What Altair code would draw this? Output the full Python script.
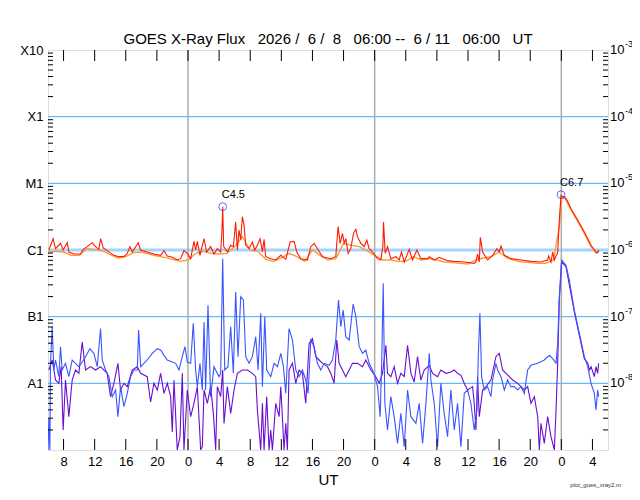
import altair as alt
import pandas as pd

# time axis: hours after 2026-06-08 06:00 UT, flux as log10(W/m^2)
red_hours = [0.11, 0.66, 0.97, 1.61, 1.95, 2.47, 2.68, 3.32, 4.18, 4.53,
             5.04, 5.68, 6.11, 6.54, 6.76, 7.10, 7.61, 8.47, 9.12, 9.76,
             10.19, 10.53, 10.83, 11.60, 11.90, 12.76, 13.62, 14.48, 14.91, 15.34,
             15.98, 16.62, 17.05, 17.48, 17.91, 18.34, 18.77, 18.98, 19.20, 19.54,
             20.06, 20.40, 20.91, 21.34, 21.77, 22.20, 22.37, 22.46, 22.59, 23.06,
             23.49, 23.83, 24.13, 24.35, 24.56, 24.78, 24.99, 25.21, 25.42, 25.85,
             26.28, 26.58, 26.92, 27.27, 27.57, 27.78, 27.99, 28.64, 29.28, 29.93,
             30.57, 31.13, 31.64, 31.98, 32.50, 33.36, 33.79, 34.22, 34.64, 35.29,
             36.36, 37.00, 37.30, 37.56, 37.86, 38.08, 38.29, 38.59, 38.93, 39.28,
             39.58, 39.79, 40.22, 40.65, 40.99, 41.29, 41.72, 42.36, 42.79, 43.05,
             43.14, 43.35, 43.65, 44.08, 44.72, 45.15, 45.45, 45.80, 46.44, 46.87,
             47.43, 47.94, 48.80, 49.01, 49.66, 50.30, 50.73, 51.37, 52.23, 53.52,
             54.80, 55.02, 55.23, 55.45, 55.58, 55.88, 56.52, 57.17, 57.72, 58.02,
             58.24, 58.67, 59.52, 60.81, 62.10, 63.38, 64.24, 64.37, 64.67, 64.89,
             65.10, 65.53, 65.74, 65.96, 66.17, 66.39, 66.73, 67.25, 68.10, 68.96,
             69.82, 70.46, 70.67, 70.80]
red_log = [-6.00, -5.83, -5.98, -5.90, -6.00, -5.89, -6.03, -6.06, -6.06, -5.99,
           -5.95, -5.89, -5.95, -5.99, -5.83, -5.97, -6.01, -6.08, -6.10, -6.10,
           -6.05, -5.95, -6.03, -5.89, -6.00, -6.03, -6.06, -6.08, -6.01, -6.09,
           -6.11, -6.15, -6.13, -6.01, -6.05, -6.13, -5.87, -6.00, -5.87, -6.08,
           -5.83, -6.03, -5.95, -6.06, -5.98, -6.03, -5.70, -5.35, -5.95, -6.03,
           -5.93, -5.95, -5.58, -6.00, -5.70, -5.85, -5.50, -5.63, -5.93, -5.98,
           -5.88, -6.00, -5.93, -5.83, -6.03, -5.84, -6.10, -6.13, -6.15, -6.08,
           -6.14, -5.88, -5.87, -6.03, -6.13, -6.15, -5.95, -5.90, -5.98, -6.10,
           -6.13, -6.10, -5.65, -5.90, -5.75, -5.90, -5.83, -6.05, -5.98, -5.75,
           -5.69, -5.80, -5.90, -5.95, -5.85, -5.98, -6.03, -6.13, -6.15, -5.95,
           -5.58, -6.05, -5.95, -6.13, -6.10, -6.15, -6.03, -6.18, -5.99, -6.15,
           -6.00, -6.13, -6.13, -6.10, -6.15, -6.11, -6.13, -6.16, -6.17, -6.18,
           -6.20, -6.18, -6.06, -6.18, -5.81, -6.03, -6.15, -6.08, -5.98, -6.03,
           -5.94, -6.08, -6.13, -6.15, -6.17, -6.18, -6.15, -6.09, -6.18, -6.03,
           -6.15, -6.04, -5.55, -5.18, -5.20, -5.20, -5.25, -5.38, -5.55, -5.73,
           -5.93, -6.03, -6.04, -6.00]

orange_hours = [0, 1, 2, 3, 4, 5, 6, 7, 8, 9, 10, 11, 12, 13, 14, 15, 16, 17, 18,
                19, 20, 21, 22, 23, 24, 25, 26, 27, 28, 29, 30, 31, 32, 33, 34, 35,
                36, 37, 38, 39, 40, 41, 42, 43, 44, 45, 46, 47, 48, 49, 50, 51, 52,
                53, 54, 55, 56, 57, 58, 59, 60, 61, 62, 63, 64, 65, 65.8, 66, 66.5,
                67.25, 68.1, 69, 69.8, 70.5, 70.8]
orange_log = [-6.03, -6.02, -6.03, -6.08, -6.08, -5.98, -5.99, -6.01, -6.07, -6.12,
              -6.10, -6.04, -6.03, -6.06, -6.09, -6.11, -6.14, -6.17, -6.15, -6.05,
              -6.02, -6.05, -6.06, -6.05, -5.95, -5.80, -6.00, -6.02, -6.14, -6.17,
              -6.12, -6.05, -6.10, -6.17, -6.00, -6.08, -6.15, -6.13, -5.90, -5.93,
              -5.95, -6.01, -6.08, -6.15, -6.15, -6.17, -6.17, -6.10, -6.15, -6.13,
              -6.15, -6.18, -6.19, -6.20, -6.21, -6.15, -6.12, -6.10, -6.03, -6.12,
              -6.16, -6.18, -6.19, -6.20, -6.20, -6.15, -5.60, -5.22, -5.23, -5.40,
              -5.57, -5.76, -5.95, -6.05, -6.02]

blue_hours = [0.00, 0.11, 0.24, 0.32, 0.54, 0.75, 0.97, 1.39, 1.61, 1.82,
              2.25, 2.68, 3.11, 3.54, 3.97, 4.40, 4.83, 5.38, 5.90, 6.33,
              6.76, 6.97, 7.40, 7.83, 8.26, 8.69, 8.99, 9.33, 9.76, 10.19,
              10.62, 11.05, 11.48, 11.65, 11.91, 12.33, 12.76, 13.41, 14.05, 14.48,
              14.91, 15.34, 15.98, 16.41, 16.84, 17.27, 17.61, 17.91, 18.34, 18.68,
              18.98, 19.20, 19.54, 19.84, 20.06, 20.27, 20.57, 20.91, 21.34, 21.99,
              22.20, 22.46, 22.72, 23.14, 23.49, 23.83, 24.13, 24.43, 24.78, 25.12,
              25.42, 25.85, 26.28, 26.71, 27.01, 27.35, 27.57, 27.87, 28.12, 28.64,
              29.07, 29.50, 29.93, 30.27, 30.57, 30.99, 31.43, 31.86, 32.28, 32.71,
              33.14, 33.44, 33.79, 34.22, 34.64, 35.07, 35.50, 36.15, 36.57, 37.00,
              37.35, 37.65, 37.95, 38.29, 38.72, 39.23, 39.58, 40.01, 40.44, 40.86,
              41.29, 41.72, 42.02, 42.37, 42.71, 42.92, 43.10, 43.31, 43.65, 44.08,
              44.51, 44.94, 45.37, 45.80, 46.23, 46.66, 47.30, 47.73, 48.16, 48.59,
              49.02, 49.23, 49.66, 50.08, 50.51, 50.94, 51.37, 51.80, 52.23, 52.66,
              53.09, 53.52, 53.95, 54.37, 54.80, 55.15, 55.32, 55.53, 55.75, 56.09,
              56.52, 56.95, 57.16, 57.59, 57.81, 58.24, 58.67, 59.10, 59.52, 59.95,
              60.38, 60.81, 61.24, 61.67, 62.10, 62.96, 63.81, 64.46, 64.89, 65.32,
              65.53, 65.74, 66.04, 66.39, 66.60, 67.03, 67.67, 68.32, 68.96, 69.39,
              69.82, 70.24, 70.46, 70.67, 70.80]
blue_log = [-9.00, -8.53, -9.00, -7.70, -7.15, -7.80, -7.65, -7.90, -7.45, -7.80,
            -7.70, -7.90, -7.65, -7.70, -7.75, -7.68, -7.60, -7.48, -7.55, -7.75,
            -7.18, -7.65, -7.80, -7.90, -8.20, -8.10, -8.50, -8.05, -8.35, -8.15,
            -7.90, -7.80, -7.80, -7.20, -7.75, -7.70, -7.65, -7.55, -7.48, -7.50,
            -7.58, -7.65, -7.68, -7.70, -7.80, -7.60, -7.45, -7.68, -7.70, -7.10,
            -7.80, -8.05, -7.70, -8.10, -7.08, -8.10, -6.83, -8.20, -7.75, -7.90,
            -7.85, -6.13, -7.80, -7.75, -7.15, -7.85, -6.63, -7.60, -6.70, -6.75,
            -7.60, -7.70, -7.60, -7.30, -7.80, -6.95, -8.05, -7.00, -7.80, -7.90,
            -7.70, -7.75, -7.55, -7.75, -8.15, -7.18, -7.35, -7.80, -7.90, -7.80,
            -7.95, -8.15, -7.35, -7.45, -7.70, -7.80, -7.70, -7.73, -7.65, -7.35,
            -6.75, -7.15, -6.90, -7.30, -7.35, -6.81, -7.00, -7.45, -7.55, -7.50,
            -7.70, -7.80, -7.90, -8.05, -8.50, -7.60, -6.50, -8.30, -8.70, -8.20,
            -8.50, -8.90, -8.45, -8.95, -8.10, -8.50, -8.60, -8.30, -8.90, -8.30,
            -7.55, -7.95, -8.30, -8.95, -8.00, -8.45, -8.80, -8.10, -8.70, -8.30,
            -8.95, -8.15, -8.10, -8.30, -8.70, -8.40, -7.60, -6.95, -7.90, -8.10,
            -8.05, -8.20, -7.95, -7.70, -7.80, -7.90, -8.10, -7.95, -8.05, -8.05,
            -8.10, -8.05, -8.15, -7.80, -7.73, -7.70, -7.65, -7.58, -7.63, -7.70,
            -7.40, -6.70, -6.15, -6.20, -6.23, -6.45, -6.90, -7.25, -7.60, -7.75,
            -8.00, -8.15, -8.40, -8.10, -8.20]

purple_hours = [0.11, 0.54, 0.97, 1.39, 1.69, 1.95, 2.25, 2.68, 3.11, 3.54,
                3.97, 4.40, 4.83, 5.47, 6.11, 6.76, 7.61, 8.04, 8.47, 8.99,
                9.33, 9.76, 10.19, 10.83, 11.48, 11.91, 12.76, 13.19, 13.62, 14.05,
                14.48, 14.91, 15.34, 15.77, 15.98, 16.20, 16.62, 16.97, 17.27, 17.48,
                17.91, 18.34, 18.77, 19.20, 19.63, 19.84, 20.06, 20.49, 20.91, 21.26,
                21.56, 21.77, 22.20, 22.46, 22.63, 23.06, 23.49, 23.92, 24.35, 24.99,
                25.64, 26.28, 26.71, 26.92, 27.35, 27.57, 27.78, 28.12, 28.42, 28.64,
                28.85, 29.28, 29.71, 29.93, 30.35, 30.57, 30.78, 30.99, 31.43, 31.86,
                32.28, 32.71, 33.14, 33.57, 34.00, 34.43, 34.86, 35.29, 35.93, 36.36,
                36.79, 37.13, 37.43, 37.86, 38.29, 38.72, 39.15, 39.79, 40.44, 40.86,
                41.51, 42.15, 42.58, 43.01, 43.44, 43.65, 44.08, 44.51, 44.94, 45.37,
                45.80, 46.23, 46.66, 47.08, 47.51, 47.94, 48.37, 49.01, 49.44, 50.08,
                50.51, 51.16, 51.80, 52.23, 52.66, 53.09, 53.52, 53.95, 54.59, 54.80,
                55.02, 55.23, 55.45, 55.88, 56.31, 56.95, 57.59, 58.02, 58.45, 58.88,
                59.31, 59.74, 60.38, 60.81, 61.24, 61.67, 62.10, 62.53, 62.96, 63.17,
                63.38, 63.81, 64.24, 64.67, 65.10, 65.32, 65.53, 65.74, 66.04, 66.60,
                67.67, 68.96, 69.39, 69.61, 69.82, 70.24, 70.46, 70.67, 70.80]
purple_log = [-7.80, -7.65, -7.95, -8.00, -7.75, -8.70, -7.95, -8.50, -7.95, -7.80,
              -7.85, -7.38, -7.80, -7.75, -7.80, -7.75, -7.85, -8.20, -8.00, -7.70,
              -8.10, -8.00, -8.05, -7.80, -7.75, -7.85, -7.90, -8.28, -8.00, -8.10,
              -7.85, -8.15, -8.00, -8.20, -8.73, -7.95, -9.00, -8.80, -7.85, -9.00,
              -8.10, -8.50, -8.30, -8.05, -9.00, -8.95, -8.10, -8.30, -8.05, -8.45,
              -9.00, -8.05, -8.20, -7.80, -8.60, -8.05, -8.45, -8.10, -7.85, -7.80,
              -7.80, -7.85, -7.90, -8.40, -9.00, -8.30, -9.00, -8.20, -9.00, -8.70,
              -9.00, -8.30, -8.50, -8.05, -9.00, -8.60, -9.00, -7.80, -7.70, -8.00,
              -7.80, -7.85, -8.30, -7.40, -7.33, -7.60, -7.65, -7.70, -7.75, -7.85,
              -8.00, -7.35, -7.70, -7.80, -7.90, -7.80, -7.70, -7.70, -7.75, -7.65,
              -7.80, -7.90, -8.00, -7.85, -7.43, -7.85, -7.90, -7.75, -8.00, -7.85,
              -7.90, -7.43, -7.85, -7.98, -7.60, -7.95, -7.80, -7.73, -7.85, -7.90,
              -7.80, -7.85, -7.83, -7.80, -7.85, -7.88, -8.00, -8.10, -8.05, -8.30,
              -8.70, -7.90, -8.50, -8.10, -8.05, -7.95, -7.60, -7.55, -7.80, -7.85,
              -7.90, -7.95, -8.00, -8.05, -8.10, -8.05, -8.30, -8.20, -8.50, -9.00,
              -8.60, -8.90, -8.50, -8.80, -9.00, -8.40, -7.70, -6.75, -6.18, -6.25,
              -6.93, -7.63, -7.70, -7.80, -7.75, -7.90, -7.75, -7.85, -7.70]

flare_hours = [22.46, 65.96]
flare_log = [-5.35, -5.17]
flare_names = ["C4.5", "C6.7"]

xray_classes = ["X10", "X1", "M1", "C1", "B1", "A1"]
decade_exps = [-3, -4, -5, -6, -7, -8]
day_starts = [18, 42, 66]
tick_hours = list(range(2, 72, 4))

title = "GOES X-Ray Flux   2026 /  6 /  8   06:00 --  6 / 11   06:00   UT"

W, H = 560, 400
FONT = "Liberation Sans"


def series(hours, logs):
    return pd.DataFrame({"h": hours, "flux": [10.0 ** v for v in logs]})


decades = [10.0 ** e for e in decade_exps]
minor_levels = [m * 10.0 ** e for e in range(-9, -3) for m in range(2, 10)]

class_expr = ""
for lvl, name in zip(decades, xray_classes):
    class_expr += f"datum.value > {lvl / 2:g} ? '{name}' : "
class_expr += "''"

x_scale = alt.Scale(domain=[0, 72], nice=False, zero=False)
y_scale = alt.Scale(type="log", domain=[1e-9, 1e-3], nice=False)
x_axis = alt.Axis(values=tick_hours, labelExpr="(datum.value + 6) % 24",
                  ticks=False, domain=False, grid=False, labelFontSize=13,
                  labelPadding=5, labelFont=FONT, labelColor="black",
                  title="UT", titleFont=FONT, titleFontSize=15,
                  titleFontWeight="normal", titlePadding=4, titleColor="black")
y_axis = alt.Axis(values=decades, labelExpr=class_expr, ticks=False,
                  domain=False, grid=False, labelFontSize=13, labelPadding=5,
                  labelFont=FONT, labelColor="black", labelOverlap=False,
                  title="")

X = alt.X("h:Q", scale=x_scale, axis=x_axis)
Y = alt.Y("flux:Q", scale=y_scale, axis=y_axis)


def flux_line(df, color, width=1.1):
    return alt.Chart(df).mark_line(color=color, strokeWidth=width, clip=True).encode(x=X, y=Y)


grid_df = pd.DataFrame({"flux": [1e-4, 1e-5, 1e-7, 1e-8]})
grid = alt.Chart(grid_df).mark_rule(color="#45aaff", strokeWidth=1).encode(y=Y)
c1 = alt.Chart(pd.DataFrame({"flux": [1e-6]})).mark_rule(
    color="#a3d3ff", strokeWidth=3).encode(y=Y)
days = alt.Chart(pd.DataFrame({"h": day_starts})).mark_rule(
    color="#adadad", strokeWidth=1.5).encode(x=X)

ticks_df = pd.DataFrame({"h": tick_hours})
bottom_ticks = alt.Chart(ticks_df).mark_rule(color="black").encode(
    x=X, y=alt.value(H), y2=alt.value(H - 11))
top_ticks = alt.Chart(ticks_df).mark_rule(color="black").encode(
    x=X, y=alt.value(0), y2=alt.value(11))
minor_df = pd.DataFrame({"flux": minor_levels})
left_ticks = alt.Chart(minor_df).mark_rule(color="black").encode(
    y=Y, x=alt.value(0), x2=alt.value(5))
right_ticks = alt.Chart(minor_df).mark_rule(color="black").encode(
    y=Y, x=alt.value(W), x2=alt.value(W - 5))

right_df = pd.DataFrame({"flux": decades, "exp": [str(e) for e in decade_exps]})
tens = alt.Chart(right_df).mark_text(
    align="left", baseline="middle", dx=2, fontSize=13, font=FONT).encode(
    y=Y, x=alt.value(W), text=alt.value("10"))
exps = alt.Chart(right_df).mark_text(
    align="left", baseline="middle", dx=17, dy=-6, fontSize=9, font=FONT).encode(
    y=Y, x=alt.value(W), text="exp:N")

flare_df = series(flare_hours, flare_log)
flare_df["name"] = flare_names
circles = alt.Chart(flare_df).mark_point(
    shape="circle", filled=False, color="#2a2aff", size=60, strokeWidth=1).encode(x=X, y=Y)
flare_text = alt.Chart(flare_df).mark_text(
    align="left", baseline="alphabetic", dx=-1, dy=-9, fontSize=11, font=FONT).encode(
    x=X, y=Y, text="name:N")

heading = alt.Chart(pd.DataFrame({"t": [title.replace(" ", "\u00a0")]})).mark_text(
    align="center", baseline="alphabetic", fontSize=15, font=FONT, color="black").encode(
    x=alt.value(W / 2), y=alt.value(-6), text="t:N")

footer = alt.Chart(pd.DataFrame({"t": ["plot_goes_xray2.m"]})).mark_text(
    align="right", baseline="middle", fontSize=6, font=FONT, color="#333").encode(
    x=alt.value(W + 13), y=alt.value(H + 35), text="t:N")

chart = alt.layer(
    grid, c1, days,
    flux_line(series(purple_hours, purple_log), "#6a0fd0"),
    flux_line(series(blue_hours, blue_log), "#3a55ff"),
    flux_line(series(orange_hours, orange_log), "#ff9a33", 1.4),
    flux_line(series(red_hours, red_log), "#ff1a00"),
    circles, flare_text,
    bottom_ticks, top_ticks, left_ticks, right_ticks,
    tens, exps, heading, footer,
).properties(
    width=W, height=H,
    padding={"left": 40, "top": 42, "right": 24, "bottom": 42},
    autosize=alt.AutoSizeParams(type="none"),
).configure_view(stroke="black", strokeWidth=1.5).configure(background="white")

chart.save("out.html", embed_options={"renderer": "svg", "actions": False})
